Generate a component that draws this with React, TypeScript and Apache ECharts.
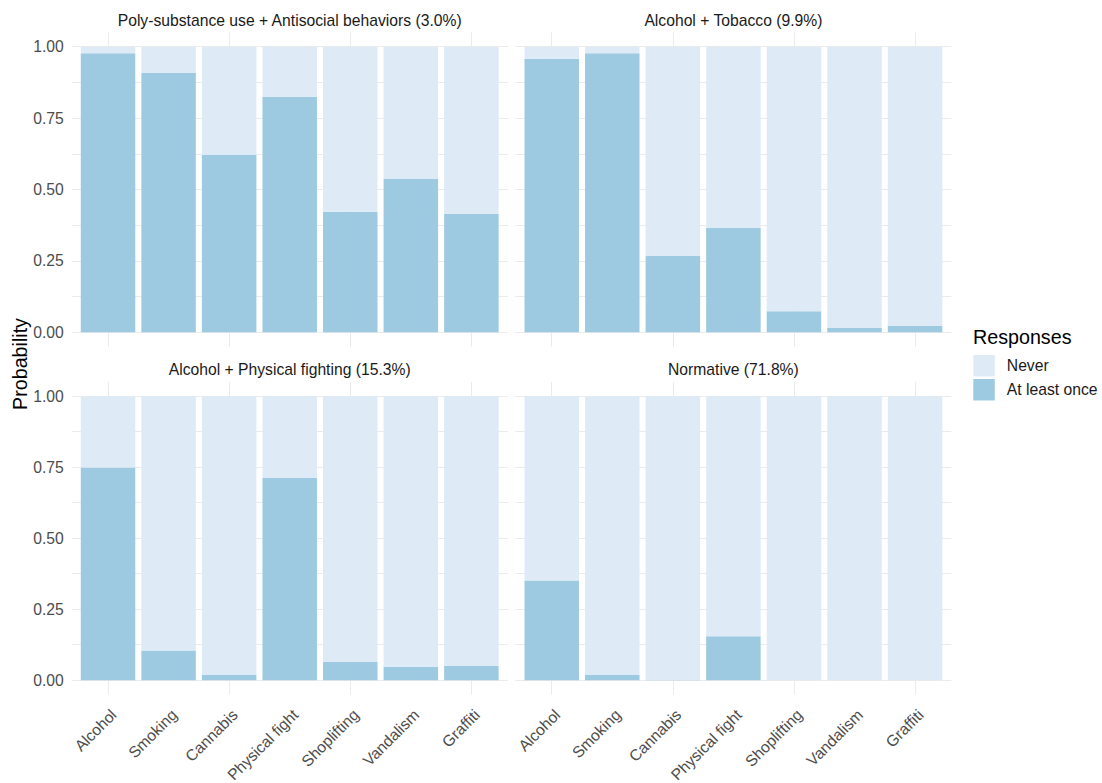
import React, { useEffect, useRef } from "react";
import * as echarts from "echarts";

const categories = ["Alcohol", "Smoking", "Cannabis", "Physical fight", "Shoplifting", "Vandalism", "Graffiti"];
const panelTitles = [
  "Poly-substance use + Antisocial behaviors (3.0%)",
  "Alcohol + Tobacco (9.9%)",
  "Alcohol + Physical fighting (15.3%)",
  "Normative (71.8%)",
];
const legendNames = ["Never", "At least once"];
const yTickValues = [0, 0.25, 0.5, 0.75, 1];

const polyAtLeastOnce = [0.977, 0.908, 0.621, 0.825, 0.422, 0.537, 0.415];
const polyNever = [0.023, 0.092, 0.379, 0.175, 0.578, 0.463, 0.585];
const tobaccoAtLeastOnce = [0.958, 0.977, 0.267, 0.365, 0.074, 0.015, 0.023];
const tobaccoNever = [0.042, 0.023, 0.733, 0.635, 0.926, 0.985, 0.977];
const fightAtLeastOnce = [0.749, 0.105, 0.018, 0.712, 0.064, 0.047, 0.05];
const fightNever = [0.251, 0.895, 0.982, 0.288, 0.936, 0.953, 0.95];
const normAtLeastOnce = [0.351, 0.018, 0.001, 0.155, 0, 0, 0];
const normNever = [0.649, 0.982, 0.999, 0.845, 1, 1, 1];

const panelAtLeastOnce = [polyAtLeastOnce, tobaccoAtLeastOnce, fightAtLeastOnce, normAtLeastOnce];
const panelNever = [polyNever, tobaccoNever, fightNever, normNever];

const COLOR_NEVER = "#deebf7";
const COLOR_ONCE = "#9ecae1";
const GRID_COLOR = "#ebebeb";
const FONT = "'Liberation Sans', Arial, sans-serif";
const SMALL = 15.7;
const BIG = 19.7;

export default function App() {
  const ref = useRef<HTMLDivElement>(null);
  useEffect(() => {
    if (!ref.current) return;
    const chart = echarts.init(ref.current, undefined, { renderer: "svg" });

    const panelLefts = [71.7, 515.4];
    const panelW = 436;
    const ones = [46.7, 396.2];
    const zeros = [332.3, 680.2];
    const unit = panelW / 7.2;

    const grids: any[] = [];
    const xAxes: any[] = [];
    const yAxes: any[] = [];
    const series: any[] = [];
    const graphics: any[] = [];

    for (let p = 0; p < 4; p++) {
      const r = Math.floor(p / 2);
      const c = p % 2;
      const left = panelLefts[c];
      const one = ones[r];
      const zero = zeros[r];
      const h = zero - one;
      const pTop = one - 0.05 * h;
      const pH = 1.1 * h;

      // background grid: horizontal lines + y labels
      const gBg = grids.length;
      grids.push({ left, top: one, width: panelW, height: h, containLabel: false, outerBoundsMode: "none" });
      xAxes.push({ type: "category", gridIndex: gBg, data: categories, show: false });
      yAxes.push({
        type: "value",
        gridIndex: gBg,
        min: 0,
        max: 1,
        interval: 0.125,
        axisLine: { show: false },
        axisTick: { show: false },
        splitLine: { show: true, lineStyle: { color: GRID_COLOR, width: 1 } },
        axisLabel: {
          show: c === 0,
          margin: 8,
          color: "#4d4d4d",
          fontSize: SMALL,
          fontFamily: FONT,
          formatter: (v: number) => (yTickValues.indexOf(v) >= 0 ? v.toFixed(2) : ""),
        },
      });

      // vertical line grid
      const gV = grids.length;
      grids.push({ left: left + 0.6 * unit, top: pTop, width: 6 * unit, height: pH, outerBoundsMode: "none" });
      xAxes.push({
        type: "category",
        gridIndex: gV,
        data: categories,
        boundaryGap: false,
        axisLine: { show: false },
        axisTick: { show: false },
        axisLabel: { show: false },
        splitLine: { show: true, lineStyle: { color: GRID_COLOR, width: 1 } },
      });
      yAxes.push({ type: "value", gridIndex: gV, min: 0, max: 1, show: false });

      // bar grid
      const gB = grids.length;
      grids.push({ left: left + 0.1 * unit, top: pTop, width: 7 * unit, height: pH, outerBoundsMode: "none" });
      xAxes.push({
        type: "category",
        gridIndex: gB,
        data: categories,
        axisLine: { show: false },
        axisTick: { show: false },
        splitLine: { show: false },
        axisLabel: {
          show: r === 1,
          rotate: 45,
          interval: 0,
          margin: 12,
          align: "right",
          verticalAlign: "top",
          color: "#4d4d4d",
          fontSize: SMALL,
          fontFamily: FONT,
        },
      });
      yAxes.push({ type: "value", gridIndex: gB, min: -0.05, max: 1.05, show: false, splitLine: { show: false } });

      series.push({
        type: "bar",
        name: "At least once",
        xAxisIndex: gB,
        yAxisIndex: gB,
        stack: "p" + p,
        data: panelAtLeastOnce[p],
        barCategoryGap: "10%",
        itemStyle: { color: COLOR_ONCE },
      });
      series.push({
        type: "bar",
        name: "Never",
        xAxisIndex: gB,
        yAxisIndex: gB,
        stack: "p" + p,
        data: panelNever[p],
        barCategoryGap: "10%",
        itemStyle: { color: COLOR_NEVER },
      });

      graphics.push({
        type: "text",
        x: left + panelW / 2,
        y: r === 0 ? 20 : 369,
        style: {
          text: panelTitles[p],
          align: "center",
          verticalAlign: "middle",
          fontSize: SMALL,
          fontFamily: FONT,
          fill: "#1a1a1a",
        },
      });
    }

    graphics.push({
      type: "text",
      x: 20,
      y: 364,
      rotation: Math.PI / 2,
      style: {
        text: "Probability",
        align: "center",
        verticalAlign: "middle",
        fontSize: BIG,
        fontFamily: FONT,
        fill: "#000",
      },
    });
    graphics.push({
      type: "text",
      x: 973,
      y: 337,
      style: {
        text: "Responses",
        align: "left",
        verticalAlign: "middle",
        fontSize: BIG,
        fontFamily: FONT,
        fill: "#000",
      },
    });

    chart.setOption({
      animation: false,
      backgroundColor: "#ffffff",
      grid: grids,
      xAxis: xAxes,
      yAxis: yAxes,
      series,
      graphic: graphics,
      legend: {
        data: legendNames,
        orient: "vertical",
        left: 973.3,
        top: 355,
        padding: 0,
        itemWidth: 21.5,
        itemHeight: 21.5,
        itemGap: 2.5,
        icon: "rect",
        selectedMode: false,
        textStyle: { fontSize: SMALL, fontFamily: FONT, color: "#1a1a1a", padding: [0, 0, 0, 7] },
      },
    });
    return () => chart.dispose();
  }, []);
  return <div ref={ref} style={{ position: "fixed", left: 0, top: 0, width: 1102, height: 783, background: "#fff" }} />;
}
